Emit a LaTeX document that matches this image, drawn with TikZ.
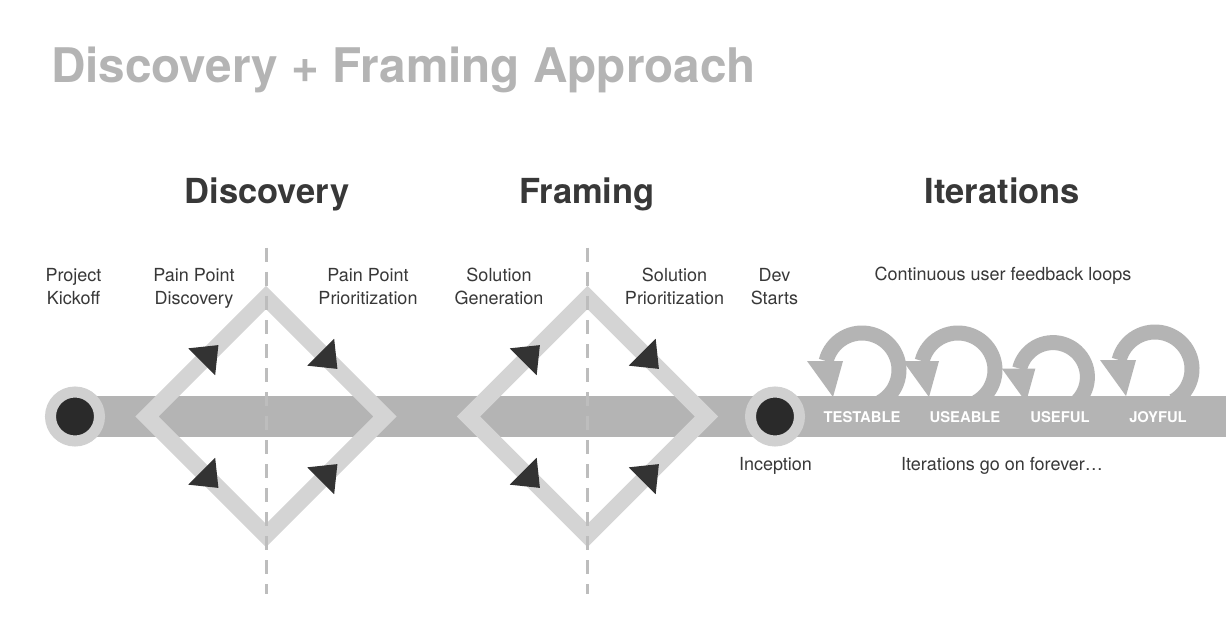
\documentclass[tikz,border=0pt]{standalone}
\usepackage{fontspec}
\setmainfont{TeX Gyre Heros}
\usetikzlibrary{calc}
\definecolor{bargray}{HTML}{B4B4B4}
\definecolor{diagray}{HTML}{D4D4D4}
\definecolor{ringgray}{HTML}{D0D0D0}
\definecolor{darkdot}{HTML}{2A2A2A}
\definecolor{titlegray}{HTML}{B4B4B4}
\definecolor{textdark}{HTML}{383838}
\definecolor{dashgray}{HTML}{BDBDBD}
\definecolor{arrowdark}{HTML}{333333}
\newcommand{\edgearrow}[2]{%
  \coordinate (m) at ($(#1)!0.46!(#2)$);
  \fill[arrowdark] ($(#1)!0.6!(#2)$) -- ($(m)!19pt!90:(#2)$) -- ($(m)!19pt!-90:(#2)$) -- cycle;}
\tikzset{
  fbloop/.pic={
    \draw[bargray, line width=15pt] (60:37) arc[start angle=60, end angle=-166, radius=37];
    \fill[bargray] (-55,-9) -- (-19,-9) -- (-29,27) -- cycle;
  },
  diamondpath/.style={draw=diagray, line width=16.5pt, line join=miter},
  dashline/.style={draw=dashgray, line width=3pt, dash pattern=on 14pt off 10pt},
  milestone/.style={circle, fill=darkdot, draw=ringgray, line width=11pt, minimum size=49pt, inner sep=0pt},
  lbl/.style={font=\fontsize{18}{23}\selectfont, text=textdark, align=center, anchor=base, inner sep=0pt},
  hdr/.style={font=\fontsize{34.5}{40}\selectfont\bfseries, text=textdark, anchor=base, inner sep=0pt},
  barlbl/.style={font=\fontsize{14.8}{16}\selectfont\bfseries, text=white, anchor=base, inner sep=0pt},
}
\begin{document}
\begin{tikzpicture}[x=1pt, y=-1pt]
\fill[white] (0,0) rectangle (1226,644);
\useasboundingbox (0,0) rectangle (1226,644);

% feedback loops (under the bar)
\pic (loopA) at (862,370) {fbloop};
\pic (loopB) at (958,370) {fbloop};
\pic[scale=0.93] (loopC) at (1053,377) {fbloop};
\pic (loopD) at (1155,369) {fbloop};

% timeline bar
\coordinate (kick) at (75,416.5);
\coordinate (incep) at (775,416.5);
\coordinate (barend) at (1226,416.5);
\draw[bargray, line width=41pt] (kick) -- (incep) -- (barend);

% diamond 1
\coordinate (d1l) at (147,416.5);
\coordinate (d1t) at (266,297.5);
\coordinate (d1r) at (385,416.5);
\coordinate (d1b) at (266,535.5);
\draw[diamondpath] (d1l) -- (d1t) -- (d1r) -- (d1b) -- cycle;
\edgearrow{d1l}{d1t}
\edgearrow{d1t}{d1r}
\edgearrow{d1l}{d1b}
\edgearrow{d1b}{d1r}

% diamond 2
\coordinate (d2l) at (468.5,416.5);
\coordinate (d2t) at (587.5,297.5);
\coordinate (d2r) at (706.5,416.5);
\coordinate (d2b) at (587.5,535.5);
\draw[diamondpath] (d2l) -- (d2t) -- (d2r) -- (d2b) -- cycle;
\edgearrow{d2l}{d2t}
\edgearrow{d2t}{d2r}
\edgearrow{d2l}{d2b}
\edgearrow{d2b}{d2r}

% dashed dividers
\coordinate (dash1a) at (266.5,248);
\coordinate (dash1b) at (266.5,594);
\coordinate (dash2a) at (587.5,248);
\coordinate (dash2b) at (587.5,594);
\draw[dashline] (dash1a) -- (dash1b);
\draw[dashline] (dash2a) -- (dash2b);

% milestones
\node[milestone] (kickoff) at (kick) {};
\node[milestone] (inception) at (incep) {};

% title
\node[font=\fontsize{47.7}{52}\selectfont\bfseries, text=titlegray, anchor=base west, inner sep=0pt] (title) at (51,83) {Discovery + Framing Approach};

% headers
\node[hdr] (hdisc) at (267,204) {Discovery};
\node[hdr] (hfram) at (587,204) {Framing};
\node[hdr] (hiter) at (1002.5,204) {Iterations};

% labels (anchor base = baseline of last line)
\node[lbl] (lkick) at (73.5,305) {Project\\Kickoff};
\node[lbl] (lppd) at (194,305) {Pain Point\\Discovery};
\node[lbl] (lppp) at (368,305) {Pain Point\\Prioritization};
\node[lbl] (lsg) at (499,305) {Solution\\Generation};
\node[lbl] (lsp) at (674.5,305) {Solution\\Prioritization};
\node[lbl] (ldev) at (774.5,305) {Dev\\Starts};
\node[lbl] (lcont) at (1003,280) {Continuous user feedback loops};
\node[lbl] (lincep) at (775.5,470) {Inception};
\node[lbl] (lforever) at (1002,470) {Iterations go on forever\ldots};

% bar labels
\node[barlbl] (btest) at (862,422) {TESTABLE};
\node[barlbl] (buse) at (965,422) {USEABLE};
\node[barlbl] (buseful) at (1060,422) {USEFUL};
\node[barlbl] (bjoy) at (1158,422) {JOYFUL};
\end{tikzpicture}
\end{document}
